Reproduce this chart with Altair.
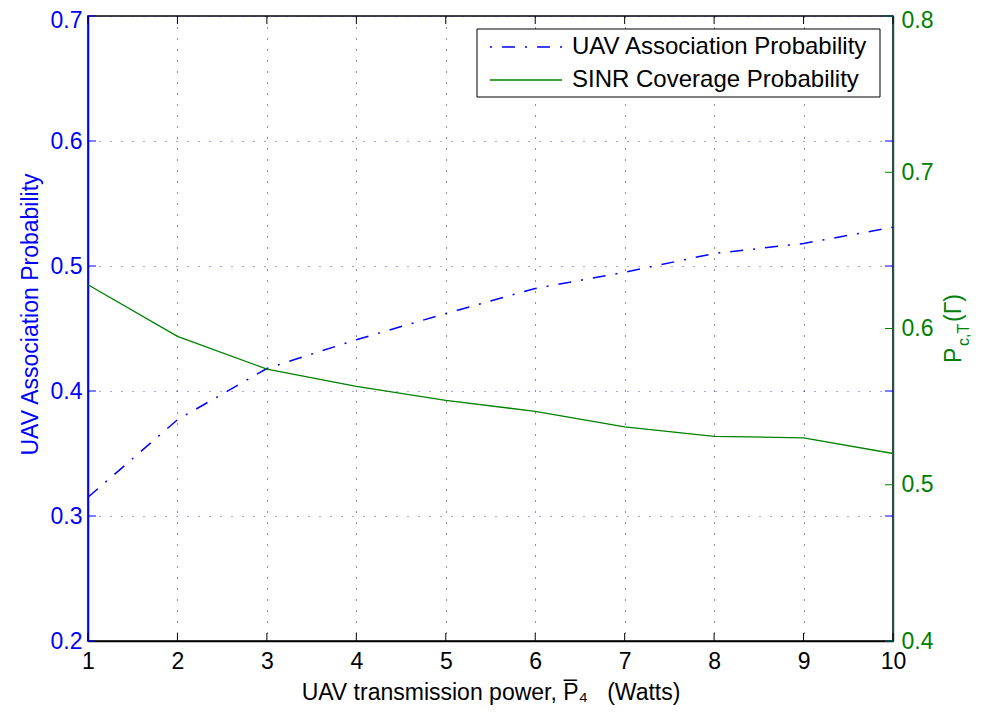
import altair as alt
import pandas as pd

# ---- data ----
x_vals = [1, 2, 3, 4, 5, 6, 7, 8, 9, 10]
uav_assoc = [0.315, 0.377, 0.418, 0.441, 0.462, 0.482, 0.495, 0.510, 0.518, 0.531]
sinr_cov = [0.628, 0.595, 0.574, 0.563, 0.554, 0.547, 0.537, 0.531, 0.530, 0.520]
x_ticks = [1, 2, 3, 4, 5, 6, 7, 8, 9, 10]
left_ticks = [0.2, 0.3, 0.4, 0.5, 0.6, 0.7]
right_ticks = [0.4, 0.5, 0.6, 0.7, 0.8]
series_names = ["UAV Association Probability", "SINR Coverage Probability"]
left_title = "UAV Association Probability"
x_title = "UAV transmission power, P\u0305\u2084\u00a0\u00a0 (Watts)"
right_title_parts = ["P", "c,T", "(\u0393)"]

# ---- style ----
W, H = 805, 625
FONT = "Liberation Sans"
BLUE = "#0000ff"
GREEN = "#008000"
FS = 23

df = pd.DataFrame({"x": x_vals, "assoc": uav_assoc, "cov": sinr_cov})
xt_df = pd.DataFrame({"x": x_ticks})
lt_df = pd.DataFrame({"v": left_ticks})
rt_df = pd.DataFrame({"v": right_ticks})
one = pd.DataFrame({"a": [0]})

xscale = alt.Scale(domain=[1, 10], nice=False, zero=False)
yl_scale = alt.Scale(domain=[0.2, 0.7], nice=False, zero=False)
yr_scale = alt.Scale(domain=[0.4, 0.8], nice=False, zero=False)

x_axis = alt.Axis(values=x_ticks, format="d", title=x_title,
                  labelFontSize=FS, titleFontSize=FS, labelColor="black",
                  titleColor="black", ticks=False, labelPadding=9,
                  titlePadding=8, domainColor="black", domainWidth=1.5,
                  grid=True, gridColor="#222222", gridDash=[1, 10], gridWidth=1,
                  titleFontWeight="normal", labelFlush=False)

yl_axis = alt.Axis(orient="left", values=left_ticks, format=".1f", title=left_title,
                   labelFontSize=FS, titleFontSize=FS, labelColor=BLUE,
                   titleColor=BLUE, domainColor=BLUE, domainWidth=1.5,
                   ticks=False, labelPadding=6, grid=True,
                   labelOffset={"condition": {"test": "datum.value > 0.69", "value": 4}, "value": 0},
                   gridColor=BLUE, gridOpacity=0.7, gridDash=[1, 10], gridWidth=1.2,
                   titleX=-46, titleY=298, titleAngle=270, titleAlign="center",
                   titleBaseline="bottom", titleFontWeight="normal")

yr_axis = alt.Axis(orient="right", values=right_ticks, format=".1f", title=None,
                   labelFontSize=FS, labelColor=GREEN, domainColor="#14604a",
                   labelOffset={"condition": {"test": "datum.value > 0.79", "value": 4}, "value": 0},
                   domainWidth=1.5, ticks=False, labelPadding=8,
                   grid=False)

X = alt.X("x:Q", scale=xscale, axis=x_axis)

blue_line = alt.Chart(df).mark_line(color=BLUE, strokeWidth=1.5,
                                    strokeDash=[13, 10, 2, 10]).encode(
    x=X, y=alt.Y("assoc:Q", scale=yl_scale, axis=yl_axis))
green_line = alt.Chart(df).mark_line(color=GREEN, strokeWidth=1.3).encode(
    x=X, y=alt.Y("cov:Q", scale=yr_scale, axis=yr_axis))

bottom_ticks = alt.Chart(xt_df).mark_rule(color="black", strokeWidth=1).encode(
    x=X, y=alt.value(H), y2=alt.value(H - 8))
top_ticks = alt.Chart(xt_df).mark_rule(color="black", strokeWidth=1).encode(
    x=X, y=alt.value(0), y2=alt.value(8))
left_ticks_l = alt.Chart(lt_df).mark_rule(color=BLUE, strokeWidth=1).encode(
    y=alt.Y("v:Q", scale=yl_scale, axis=None), x=alt.value(0), x2=alt.value(8))
left_ticks_r = alt.Chart(lt_df).mark_rule(color=BLUE, strokeWidth=1).encode(
    y=alt.Y("v:Q", scale=yl_scale, axis=None), x=alt.value(W - 8), x2=alt.value(W))
right_ticks_r = alt.Chart(rt_df).mark_rule(color=GREEN, strokeWidth=1).encode(
    y=alt.Y("v:Q", scale=yr_scale, axis=None), x=alt.value(W - 8), x2=alt.value(W))

# ---- legend (drawn box) ----
leg_box = alt.Chart(one).mark_rect(fill="white", stroke="black", strokeWidth=1).encode(
    x=alt.value(389), x2=alt.value(792), y=alt.value(13), y2=alt.value(81))
leg_sym1 = alt.Chart(one).mark_rule(color=BLUE, strokeWidth=1.5,
                                    strokeDash=[13, 10, 2, 10], strokeDashOffset=23).encode(
    x=alt.value(402), x2=alt.value(474), y=alt.value(31))
leg_sym2 = alt.Chart(one).mark_rule(color=GREEN, strokeWidth=1.3).encode(
    x=alt.value(402), x2=alt.value(474), y=alt.value(64))
leg_txt1 = alt.Chart(one).mark_text(align="left", baseline="middle", fontSize=24,
                                    font=FONT, color="black").encode(
    x=alt.value(484), y=alt.value(31), text=alt.value(series_names[0]))
leg_txt2 = alt.Chart(one).mark_text(align="left", baseline="middle", fontSize=24,
                                    font=FONT, color="black").encode(
    x=alt.value(484), y=alt.value(64), text=alt.value(series_names[1]))

# ---- right axis title P_{c,T}(Γ) ----
rt1 = alt.Chart(one).mark_text(angle=270, align="left", baseline="alphabetic",
                               fontSize=FS, font=FONT, color=GREEN).encode(
    x=alt.value(873), y=alt.value(347), text=alt.value(right_title_parts[0]))
rt2 = alt.Chart(one).mark_text(angle=270, align="left", baseline="alphabetic",
                               fontSize=16, font=FONT, color=GREEN).encode(
    x=alt.value(881), y=alt.value(330), text=alt.value(right_title_parts[1]))
rt3 = alt.Chart(one).mark_text(angle=270, align="left", baseline="alphabetic",
                               fontSize=FS, font=FONT, color=GREEN).encode(
    x=alt.value(873), y=alt.value(306), text=alt.value(right_title_parts[2]))

chart = alt.layer(
    blue_line, green_line, bottom_ticks, top_ticks, left_ticks_l, left_ticks_r,
    right_ticks_r, leg_box, leg_sym1, leg_sym2, leg_txt1, leg_txt2, rt1, rt2, rt3,
).resolve_scale(y="independent").properties(
    width=W, height=H,
    padding={"left": 80, "top": 8, "right": 80, "bottom": 65},
    autosize=alt.AutoSizeParams(type="none"),
).configure_view(stroke="black", strokeWidth=1.5).configure_axis(
    labelFont=FONT, titleFont=FONT)

chart.save("out.html", embed_options={"renderer": "svg", "actions": False})
